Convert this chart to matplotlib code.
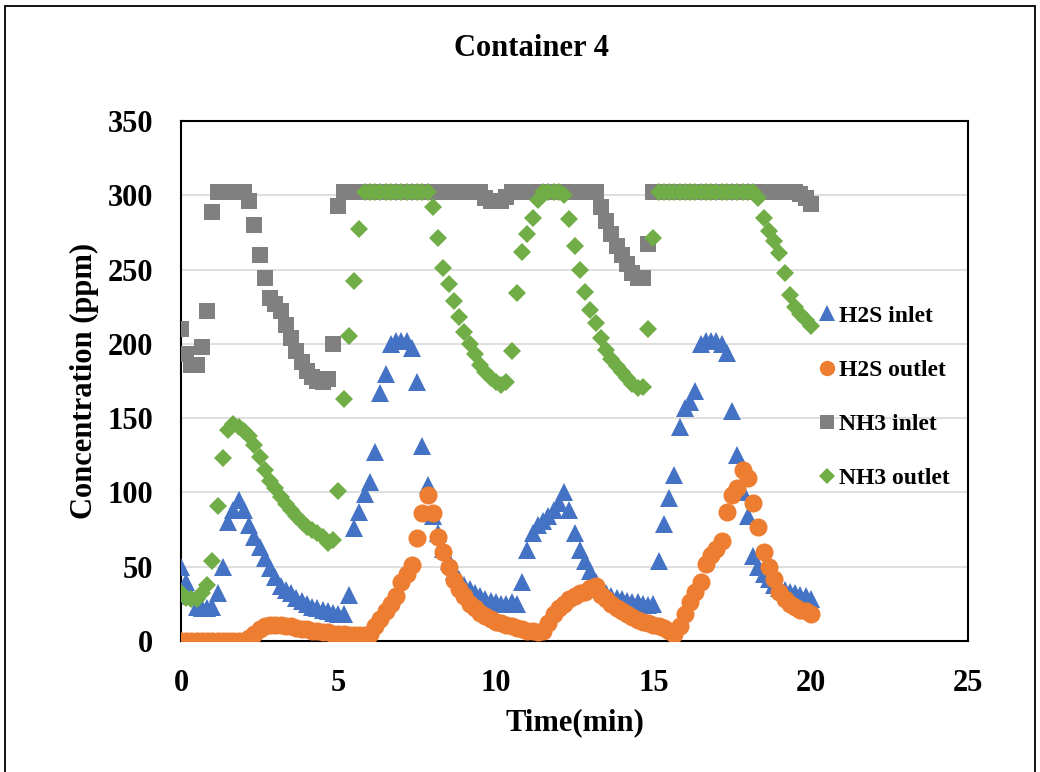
"""
Container 4: H2S / NH3 inlet and outlet concentrations over time.
"""

import matplotlib.pyplot as plt
from matplotlib.patches import Rectangle

plt.rcParams["font.family"] = ["Liberation Serif", "DejaVu Serif"]
plt.rcParams["font.weight"] = "bold"

# elapsed time of each reading, seconds (10 s logging interval)
time_s = [
    0, 10, 20, 30, 40, 50, 60, 70, 80, 90, 100, 110, 120, 130, 140, 150, 160,
    170, 180, 190, 200, 210, 220, 230, 240, 250, 260, 270, 280, 290, 300, 310,
    320, 330, 340, 350, 360, 370, 380, 390, 400, 410, 420, 430, 440, 450, 460,
    470, 480, 490, 500, 510, 520, 530, 540, 550, 560, 570, 580, 590, 600, 610,
    620, 630, 640, 650, 660, 670, 680, 690, 700, 710, 720, 730, 740, 750, 760,
    770, 780, 790, 800, 810, 820, 830, 840, 850, 860, 870, 880, 890, 900, 910,
    920, 930, 940, 950, 960, 970, 980, 990, 1000, 1010, 1020, 1030, 1040, 1050,
    1060, 1070, 1080, 1090, 1100, 1110, 1120, 1130, 1140, 1150, 1160, 1170,
    1180, 1190, 1200,
]

h2s_inlet = [
    50, 40, 30, 23, 22, 22, 23, 32, 50, 80, 88, 95, 88, 78, 70, 63, 56, 49, 43,
    37, 34, 32, 29, 27, 25, 23, 22, 21, 20, 19, 18, 18, 31, 76, 87, 99, 107,
    127, 167, 180, 200, 202, 202, 202, 197, 174, 131, 105, 84, 73, 62, 54, 47,
    42, 38, 35, 32, 30, 28, 27, 26, 25, 25, 26, 25, 40, 61, 73, 78, 81, 84, 88,
    93, 100, 88, 73, 61, 54, 47, 40, 35, 32, 30, 29, 28, 27, 26, 26, 25, 24, 25,
    54, 79, 96, 112, 144, 157, 161, 168, 200, 202, 202, 202, 200, 194, 155, 125,
    100, 84, 57, 50, 45, 42, 38, 36, 34, 33, 32, 31, 30, 28,
]

h2s_outlet = [
    0, 0, 0, 0, 0, 0, 0, 0, 0, 0, 0, 0, 0, 2, 5, 8, 10, 11, 11, 11, 10, 10, 9,
    8, 8, 7, 7, 6, 6, 5, 5, 5, 4, 4, 4, 4, 5, 10, 15, 20, 25, 30, 40, 45, 51,
    69, 86, 98, 86, 70, 60, 50, 41, 35, 30, 25, 22, 19, 17, 15, 13, 12, 11, 10,
    9, 8, 7, 7, 6, 7, 12, 18, 22, 25, 28, 30, 32, 33, 36, 37, 31, 28, 25, 22,
    20, 18, 16, 14, 13, 12, 11, 10, 9, 7, 5, 10, 18, 26, 33, 40, 52, 58, 62, 67,
    87, 98, 103, 115, 110, 93, 77, 60, 50, 42, 33, 28, 25, 23, 21, 20, 18,
]

nh3_inlet = [
    210, 193, 186, 186, 198, 222, 289, 302, 302, 302, 302, 302, 302, 296, 280,
    260, 244, 231, 227, 222, 213, 204, 195, 188, 182, 178, 175, 174, 176, 200,
    293, 302, 302, 302, 302, 302, 302, 302, 302, 302, 302, 302, 302, 302, 302,
    302, 302, 302, 302, 302, 302, 302, 302, 302, 302, 302, 302, 302, 298, 296,
    296, 296, 299, 302, 302, 302, 302, 302, 302, 302, 302, 302, 302, 302, 302,
    302, 302, 302, 302, 302, 292, 283, 274, 266, 260, 254, 248, 244, 244, 267,
    302, 302, 302, 302, 302, 302, 302, 302, 302, 302, 302, 302, 302, 302, 302,
    302, 302, 302, 302, 302, 302, 302, 302, 302, 302, 302, 302, 302, 301, 298,
    294,
]

nh3_outlet = [
    32, 29, 28, 28, 32, 38, 54, 91, 123, 142, 146, 144, 141, 138, 132, 124, 115,
    108, 103, 97, 92, 88, 84, 80, 77, 75, 73, 70, 66, 68, 101, 163, 205, 242,
    277, 302, 302, 302, 302, 302, 302, 302, 302, 302, 302, 302, 302, 302, 292,
    271, 251, 240, 229, 218, 208, 200, 193, 186, 181, 177, 174, 172, 174, 195,
    234, 262, 274, 285, 297, 302, 302, 302, 302, 300, 284, 266, 250, 235, 223,
    214, 204, 196, 190, 185, 181, 177, 173, 170, 171, 210, 271, 302, 302, 302,
    302, 302, 302, 302, 302, 302, 302, 302, 302, 302, 302, 302, 302, 302, 302,
    302, 298, 285, 276, 269, 261, 248, 233, 225, 220, 216, 212,
]

time_min = [t / 60 for t in time_s]

fig = plt.figure(figsize=(10.4, 7.72), dpi=100)
ax = fig.add_axes([0.174, 0.1697, 0.757, 0.6736])

ax.plot(time_min, h2s_inlet, linestyle="none", marker="^", markersize=13,
        color="#4472C4", markeredgewidth=0, label="H2S inlet", zorder=3)
ax.plot(time_min, h2s_outlet, linestyle="none", marker="o", markersize=13,
        color="#ED7D31", markeredgewidth=0, label="H2S outlet", zorder=4)
ax.plot(time_min, nh3_inlet, linestyle="none", marker="s", markersize=12,
        color="#808080", markeredgewidth=0, label="NH3 inlet", zorder=5)
ax.plot(time_min, nh3_outlet, linestyle="none", marker="D", markersize=9.5,
        color="#70AD47", markeredgewidth=0, label="NH3 outlet", zorder=6)

ax.set_xlim(0, 25)
ax.set_ylim(0, 350)
ax.set_xticks([0, 5, 10, 15, 20, 25])
ax.set_yticks([0, 50, 100, 150, 200, 250, 300, 350])
ax.yaxis.grid(True, color="#D9D9D9", linewidth=1.2, zorder=0)
ax.set_axisbelow(True)
ax.tick_params(axis="both", length=0, labelsize=22)
ax.tick_params(axis="x", pad=20)
ax.tick_params(axis="y", pad=20)
for lbl in ax.get_xticklabels() + ax.get_yticklabels():
    lbl.set_fontweight("bold")
for side in ["left", "right", "top", "bottom"]:
    ax.spines[side].set_color("black")
    ax.spines[side].set_linewidth(1.5)

ax.legend(
    loc="center left",
    bbox_to_anchor=(0.812, 0.469),
    frameon=False,
    borderpad=0,
    borderaxespad=0,
    handlelength=0.6,
    handletextpad=0.2,
    labelspacing=1.38,
    markerscale=0.85,
    prop={"size": 17, "weight": "bold"},
)

fig.text(0.511, 0.937, "Container 4", ha="center", va="center",
         fontsize=22, fontweight="bold")
fig.text(0.553, 0.064, "Time(min)", ha="center", va="center",
         fontsize=22, fontweight="bold")
fig.text(0.081, 0.506, "Concentration (ppm)", ha="center", va="center",
         rotation=90, fontsize=22, fontweight="bold")

# chart-area border (bottom edge falls outside the image)
fig.patches.append(
    Rectangle((5 / 1040, -0.05), 1030 / 1040, 1.05 - 6 / 772,
              transform=fig.transFigure, fill=False, edgecolor="black",
              linewidth=1.3)
)

fig.savefig("out.png", dpi=100)
